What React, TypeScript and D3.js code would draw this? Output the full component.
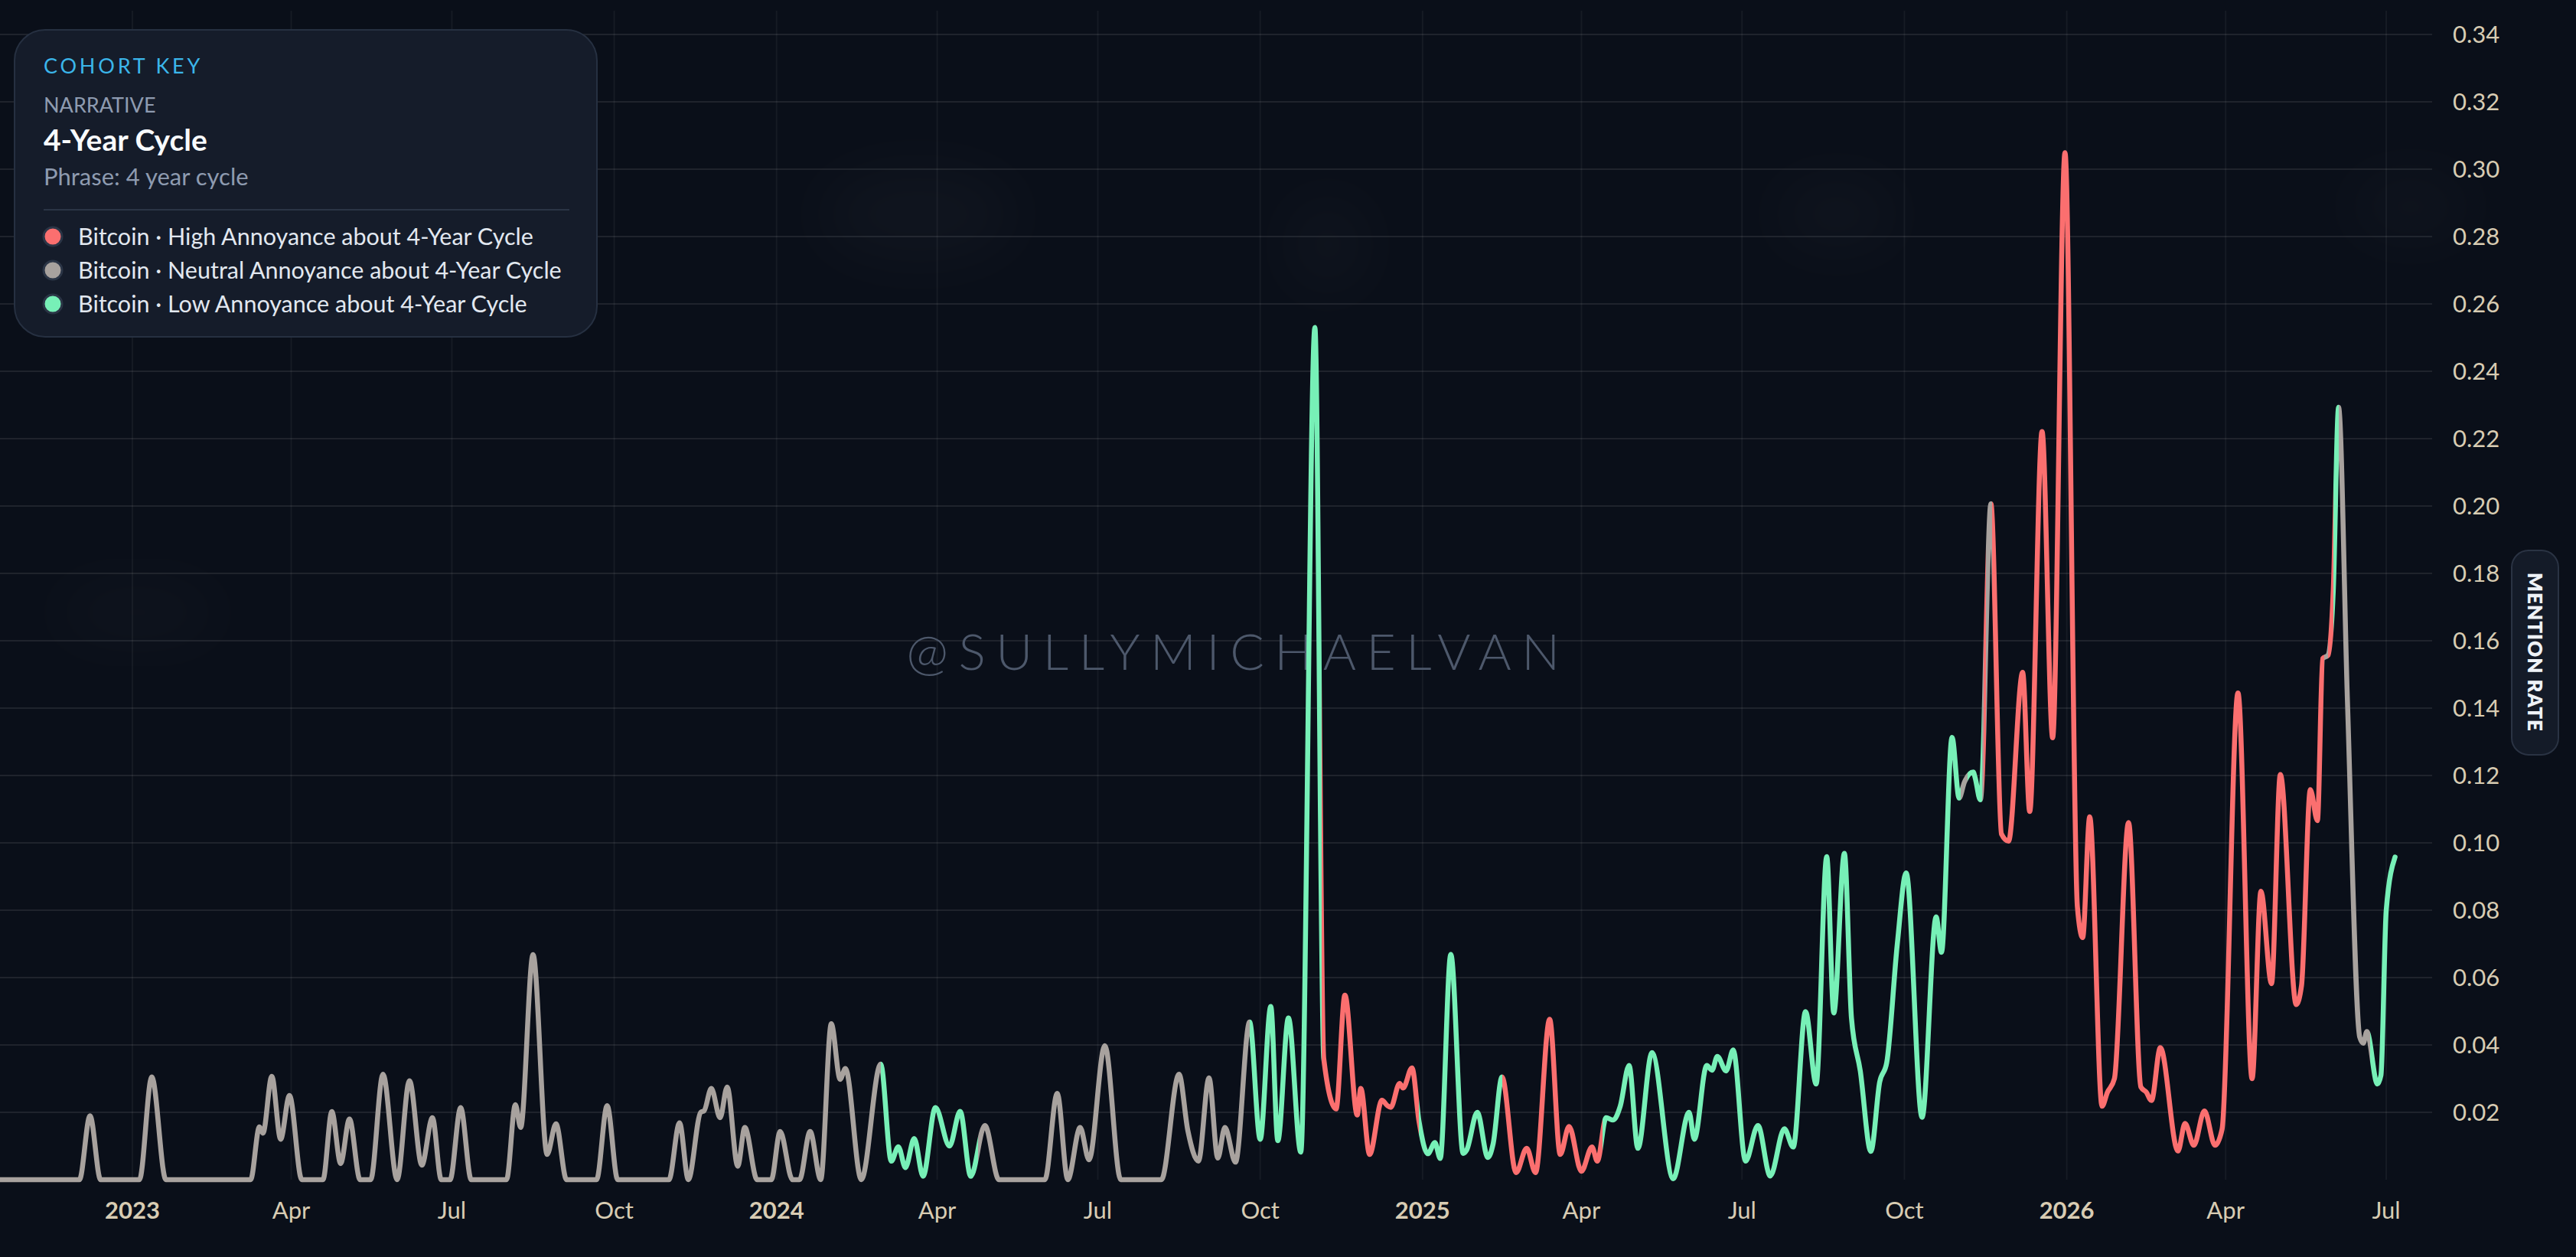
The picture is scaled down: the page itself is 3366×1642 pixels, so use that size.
import { useEffect, useRef } from "react";
import * as d3 from "d3";

// Daily mention rate, sampled at turning points
const dates = [
  "2022-10-18", "2022-12-02", "2022-12-08", "2022-12-14", "2023-01-05", "2023-01-12", "2023-01-20",
  "2023-03-09", "2023-03-14", "2023-03-16", "2023-03-21", "2023-03-26", "2023-03-31", "2023-04-07",
  "2023-04-19", "2023-04-24", "2023-04-29", "2023-05-04", "2023-05-10", "2023-05-16", "2023-05-23",
  "2023-05-31", "2023-06-07", "2023-06-14", "2023-06-20", "2023-06-25", "2023-06-30", "2023-07-06",
  "2023-07-12", "2023-08-01", "2023-08-06", "2023-08-09", "2023-08-16", "2023-08-24", "2023-08-29",
  "2023-09-04", "2023-09-21", "2023-09-27", "2023-10-03", "2023-11-01", "2023-11-07", "2023-11-12",
  "2023-11-19", "2023-11-21", "2023-11-25", "2023-11-30", "2023-12-04", "2023-12-10", "2023-12-14",
  "2023-12-21", "2023-12-29", "2024-01-03", "2024-01-10", "2024-01-14", "2024-01-20", "2024-01-26",
  "2024-02-01", "2024-02-06", "2024-02-09", "2024-02-18", "2024-02-29", "2024-03-06", "2024-03-10",
  "2024-03-14", "2024-03-19", "2024-03-24", "2024-03-31", "2024-04-08", "2024-04-14", "2024-04-20",
  "2024-04-28", "2024-05-06", "2024-06-01", "2024-06-08", "2024-06-14", "2024-06-21", "2024-06-26",
  "2024-07-05", "2024-07-14", "2024-08-06", "2024-08-16", "2024-08-21", "2024-08-27", "2024-09-02",
  "2024-09-07", "2024-09-11", "2024-09-17", "2024-09-25", "2024-10-01", "2024-10-07", "2024-10-11",
  "2024-10-17", "2024-10-24", "2024-11-01", "2024-11-06", "2024-11-13", "2024-11-18", "2024-11-25",
  "2024-11-27", "2024-12-02", "2024-12-09", "2024-12-12", "2024-12-14", "2024-12-19", "2024-12-21",
  "2024-12-26", "2024-12-30", "2025-01-04", "2025-01-08", "2025-01-11", "2025-01-17", "2025-01-24",
  "2025-01-26", "2025-02-01", "2025-02-07", "2025-02-10", "2025-02-15", "2025-02-23", "2025-03-01",
  "2025-03-06", "2025-03-14", "2025-03-20", "2025-03-25", "2025-04-01", "2025-04-07", "2025-04-10",
  "2025-04-15", "2025-04-19", "2025-04-23", "2025-04-28", "2025-05-03", "2025-05-11", "2025-05-23",
  "2025-06-01", "2025-06-04", "2025-06-11", "2025-06-14", "2025-06-17", "2025-06-22", "2025-06-26",
  "2025-07-03", "2025-07-10", "2025-07-17", "2025-07-25", "2025-07-30", "2025-08-06", "2025-08-12",
  "2025-08-18", "2025-08-22", "2025-08-28", "2025-09-01", "2025-09-06", "2025-09-12", "2025-09-17",
  "2025-09-21", "2025-09-27", "2025-10-02", "2025-10-11", "2025-10-19", "2025-10-22", "2025-10-28",
  "2025-11-01", "2025-11-04", "2025-11-09", "2025-11-10", "2025-11-13", "2025-11-15", "2025-11-16",
  "2025-11-19", "2025-11-25", "2025-11-29", "2025-12-07", "2025-12-11", "2025-12-18", "2025-12-24",
  "2025-12-31", "2026-01-07", "2026-01-10", "2026-01-14", "2026-01-21", "2026-01-24", "2026-01-28",
  "2026-02-05", "2026-02-12", "2026-02-15", "2026-02-18", "2026-02-23", "2026-03-05", "2026-03-09",
  "2026-03-14", "2026-03-20", "2026-03-26", "2026-03-30", "2026-04-08", "2026-04-16", "2026-04-21",
  "2026-04-27", "2026-05-02", "2026-05-11", "2026-05-14", "2026-05-19", "2026-05-23", "2026-05-26",
  "2026-05-29", "2026-06-01", "2026-06-04", "2026-06-09", "2026-06-16", "2026-06-18", "2026-06-20",
  "2026-06-26", "2026-06-28", "2026-07-01", "2026-07-06",
];

const values = [
  0, 0, 0.019, 0, 0, 0.0305, 0,
  0, 0.0157, 0.0138, 0.0307, 0.012, 0.025, 0,
  0, 0.0202, 0.0048, 0.018, 0, 0, 0.0313,
  0, 0.0294, 0.0043, 0.0184, 0, 0, 0.0214,
  0, 0, 0.0223, 0.0155, 0.0668, 0.0075, 0.0166,
  0, 0, 0.022, 0, 0, 0.0169, 0,
  0.02, 0.0205, 0.0271, 0.0184, 0.0275, 0.004, 0.0155,
  0, 0, 0.0143, 0, 0, 0.0143, 0,
  0.0463, 0.0298, 0.033, 0, 0.0343, 0.0055, 0.0098,
  0.0036, 0.0122, 0.001, 0.0214, 0.01, 0.0203, 0.001,
  0.0161, 0, 0, 0.0256, 0, 0.0155, 0.0059,
  0.0398, 0, 0, 0.0313, 0.0146, 0.0055, 0.0302,
  0.0064, 0.0155, 0.0052, 0.0468, 0.012, 0.0514, 0.0116,
  0.048, 0.0082, 0.253, 0.036, 0.021, 0.0548, 0.0192,
  0.0271, 0.0075, 0.0236, 0.022, 0.0215, 0.0286, 0.0272,
  0.0332, 0.0173, 0.0077, 0.011, 0.0063, 0.0669, 0.0078,
  0.0088, 0.02, 0.0066, 0.0107, 0.0305, 0.0021, 0.0093,
  0.0021, 0.0476, 0.0075, 0.0158, 0.0025, 0.0097, 0.0055,
  0.0184, 0.0177, 0.0218, 0.0339, 0.0093, 0.0377, 0.0003,
  0.02, 0.012, 0.0339, 0.0325, 0.0366, 0.0323, 0.0385,
  0.0055, 0.0161, 0.0011, 0.0151, 0.0097, 0.0499, 0.0284,
  0.0959, 0.0495, 0.0969, 0.048, 0.0323, 0.0084, 0.029,
  0.0348, 0.0701, 0.0911, 0.0185, 0.078, 0.0675, 0.1313,
  0.1133, 0.118, 0.121, 0.1195, 0.1128, 0.133, 0.1557,
  0.2007, 0.1026, 0.1005, 0.1506, 0.1093, 0.2221, 0.1312,
  0.3049, 0.0811, 0.0719, 0.1077, 0.0218, 0.0259, 0.03,
  0.106, 0.0275, 0.026, 0.0235, 0.0392, 0.0085, 0.0167,
  0.0102, 0.0204, 0.0102, 0.015, 0.1445, 0.03, 0.0856,
  0.0582, 0.1203, 0.052, 0.0576, 0.1158, 0.1066, 0.1547,
  0.1557, 0.175, 0.2293, 0.1425, 0.0423, 0.0405, 0.044,
  0.0284, 0.031, 0.08, 0.0958,
];

// Which cohort dominates, from each start date onward
const cohortStarts = [
  "2022-10-18", "2024-02-29", "2024-04-24", "2024-09-25", "2024-11-04T16:00", "2024-12-30",
  "2025-02-15", "2025-04-13", "2025-11-02", "2025-11-06", "2025-11-14", "2025-11-15",
  "2025-11-16", "2025-11-19T12:00", "2026-05-27", "2026-05-29", "2026-06-01", "2026-06-04",
  "2026-06-22",
];
const cohorts = [
  "neutral", "low", "neutral", "low", "high", "low",
  "high", "low", "neutral", "low", "neutral", "high",
  "neutral", "high", "neutral", "high", "low", "neutral",
  "low",
];

const legendKeys = ["high", "neutral", "low"];
const legendLabels = [
  "Bitcoin · High Annoyance about 4-Year Cycle",
  "Bitcoin · Neutral Annoyance about 4-Year Cycle",
  "Bitcoin · Low Annoyance about 4-Year Cycle",
];

const yTicks = [0.02, 0.04, 0.06, 0.08, 0.1, 0.12, 0.14, 0.16, 0.18, 0.2, 0.22, 0.24, 0.26, 0.28, 0.3, 0.32, 0.34];

const colors: Record<string, string> = {
  high: "#fb6f6f",
  neutral: "#a8a29e",
  low: "#77f0b7",
};

const parseDate = (s: string) => new Date(s.length === 10 ? `${s}T00:00:00Z` : `${s}:00Z`);

export default function App() {
  const svgRef = useRef<SVGSVGElement>(null);

  useEffect(() => {
    if (!svgRef.current) return;
    const svg = d3.select(svgRef.current);
    svg.selectAll("*").remove();

    const width = 3366;
    const height = 1642;
    const plotRight = 3178;
    const plotTop = 14;
    const baseY = 1541;
    const font = "Lato, 'Noto Sans', sans-serif";

    svg.append("rect").attr("width", width).attr("height", height).attr("fill", "#0a0f19");

    // Faint background glows
    const defs = svg.append("defs");
    defs
      .append("filter")
      .attr("id", "glow")
      .attr("x", "-50%")
      .attr("y", "-50%")
      .attr("width", "200%")
      .attr("height", "200%")
      .append("feGaussianBlur")
      .attr("stdDeviation", 40);

    const glows = [
      [1200, 280, 130, 60],
      [1735, 320, 50, 60],
      [2400, 280, 80, 45],
      [3150, 270, 80, 40],
      [180, 800, 110, 35],
    ];
    svg
      .append("g")
      .selectAll("ellipse")
      .data(glows)
      .join("ellipse")
      .attr("cx", (d) => d[0])
      .attr("cy", (d) => d[1])
      .attr("rx", (d) => d[2])
      .attr("ry", (d) => d[3])
      .attr("fill", "#ffffff")
      .attr("opacity", 0.025)
      .attr("filter", "url(#glow)");

    // Scales
    const x = d3
      .scaleUtc()
      .domain([parseDate("2022-10-18"), parseDate("2026-07-27")])
      .range([0, plotRight]);

    const y = d3.scaleLinear().domain([0, 0.34]).range([baseY, 45]);

    const xTicks = x.ticks(d3.utcMonth.every(3) as d3.TimeInterval);

    // Grid lines
    svg
      .append("g")
      .selectAll("line")
      .data(xTicks)
      .join("line")
      .attr("x1", (d) => x(d))
      .attr("x2", (d) => x(d))
      .attr("y1", plotTop)
      .attr("y2", baseY)
      .attr("stroke", "#ffffff")
      .attr("stroke-opacity", 0.05)
      .attr("stroke-width", 2);

    svg
      .append("g")
      .selectAll("line")
      .data(yTicks)
      .join("line")
      .attr("x1", 0)
      .attr("x2", plotRight)
      .attr("y1", (d) => y(d))
      .attr("y2", (d) => y(d))
      .attr("stroke", "#ffffff")
      .attr("stroke-opacity", 0.085)
      .attr("stroke-width", 2);

    // Watermark
    svg
      .append("text")
      .attr("x", 1618)
      .attr("y", 875)
      .attr("text-anchor", "middle")
      .attr("font-family", font)
      .attr("font-weight", 300)
      .attr("font-size", 66)
      .attr("letter-spacing", 13.5)
      .attr("fill", "#4d586b")
      .text("@SULLYMICHAELVAN");

    // Cohort colour stops along x
    const grad = defs
      .append("linearGradient")
      .attr("id", "cohortStroke")
      .attr("gradientUnits", "userSpaceOnUse")
      .attr("x1", 0)
      .attr("y1", 0)
      .attr("x2", plotRight)
      .attr("y2", 0);

    cohortStarts.forEach((s, i) => {
      const off = x(parseDate(s)) / plotRight;
      const next = i + 1 < cohortStarts.length ? x(parseDate(cohortStarts[i + 1])) / plotRight : 1;
      grad.append("stop").attr("offset", Math.max(0, off)).attr("stop-color", colors[cohorts[i]]);
      grad.append("stop").attr("offset", Math.min(1, next)).attr("stop-color", colors[cohorts[i]]);
    });

    const points: [Date, number][] = dates.map((d, i) => [parseDate(d), values[i]]);
    const line = d3
      .line<[Date, number]>()
      .x((d) => x(d[0]))
      .y((d) => y(d[1]))
      .curve(d3.curveMonotoneX);

    svg
      .append("path")
      .datum(points)
      .attr("d", line)
      .attr("fill", "none")
      .attr("stroke", "url(#cohortStroke)")
      .attr("stroke-width", 6.5)
      .attr("stroke-linejoin", "round")
      .attr("stroke-linecap", "round");

    // X axis labels
    svg
      .append("g")
      .selectAll("text")
      .data(xTicks)
      .join("text")
      .attr("x", (d) => x(d))
      .attr("y", 1592)
      .attr("text-anchor", "middle")
      .attr("font-family", font)
      .attr("font-size", 31)
      .attr("font-weight", (d) => (d.getUTCMonth() === 0 ? 700 : 400))
      .attr("fill", "#d8ccb3")
      .text((d) => (d.getUTCMonth() === 0 ? d3.utcFormat("%Y")(d) : d3.utcFormat("%b")(d)));

    // Y axis labels
    svg
      .append("g")
      .selectAll("text")
      .data(yTicks)
      .join("text")
      .attr("x", 3205)
      .attr("y", (d) => y(d))
      .attr("dy", "0.35em")
      .attr("font-family", font)
      .attr("font-size", 31)
      .attr("fill", "#d8ccb3")
      .text((d) => d3.format(".2f")(d));

    // Axis title pill
    svg
      .append("rect")
      .attr("x", 3282)
      .attr("y", 719)
      .attr("width", 61)
      .attr("height", 267)
      .attr("rx", 22)
      .attr("fill", "#141b28")
      .attr("stroke", "#2a3343")
      .attr("stroke-width", 2);

    svg
      .append("text")
      .attr("transform", "translate(3312,852) rotate(90)")
      .attr("text-anchor", "middle")
      .attr("dy", "0.35em")
      .attr("font-family", font)
      .attr("font-weight", 800)
      .attr("font-size", 26)
      .attr("letter-spacing", 1)
      .attr("fill", "#eef2f7")
      .text("MENTION RATE");

    // Legend card
    const lg = svg.append("g");
    lg.append("rect")
      .attr("x", 19)
      .attr("y", 39)
      .attr("width", 761)
      .attr("height", 401)
      .attr("rx", 40)
      .attr("fill", "#151c2a")
      .attr("stroke", "#263041")
      .attr("stroke-width", 2);

    lg.append("text")
      .attr("x", 57)
      .attr("y", 96)
      .attr("font-family", font)
      .attr("font-size", 27)
      .attr("letter-spacing", 3.8)
      .attr("fill", "#3bb6ea")
      .text("COHORT KEY");

    lg.append("text")
      .attr("x", 57)
      .attr("y", 147)
      .attr("font-family", font)
      .attr("font-size", 27)
      .attr("fill", "#8e9bb0")
      .text("NARRATIVE");

    lg.append("text")
      .attr("x", 57)
      .attr("y", 197)
      .attr("font-family", font)
      .attr("font-size", 39)
      .attr("font-weight", 700)
      .attr("fill", "#f8fafc")
      .text("4-Year Cycle");

    lg.append("text")
      .attr("x", 57)
      .attr("y", 242)
      .attr("font-family", font)
      .attr("font-size", 31)
      .attr("fill", "#8e9bb0")
      .text("Phrase: 4 year cycle");

    lg.append("line")
      .attr("x1", 57)
      .attr("x2", 744)
      .attr("y1", 274)
      .attr("y2", 274)
      .attr("stroke", "#2a3445")
      .attr("stroke-width", 2);

    const rows = lg
      .selectAll(".row")
      .data(legendKeys)
      .join("g")
      .attr("class", "row")
      .attr("transform", (_, i) => `translate(0,${309 + i * 44})`);

    rows
      .append("circle")
      .attr("cx", 69)
      .attr("cy", 0)
      .attr("r", 12)
      .attr("fill", (d) => colors[d])
      .attr("stroke", "#2b3546")
      .attr("stroke-width", 3);

    rows
      .append("text")
      .attr("x", 102)
      .attr("y", 0)
      .attr("dy", "0.35em")
      .attr("font-family", font)
      .attr("font-size", 30.5)
      .attr("fill", "#e2e8f0")
      .text((_, i) => legendLabels[i]);
  }, []);

  return (
    <div style={{ position: "fixed", top: 0, left: 0 }}>
      <svg ref={svgRef} width={3366} height={1642} style={{ display: "block" }} />
    </div>
  );
}
